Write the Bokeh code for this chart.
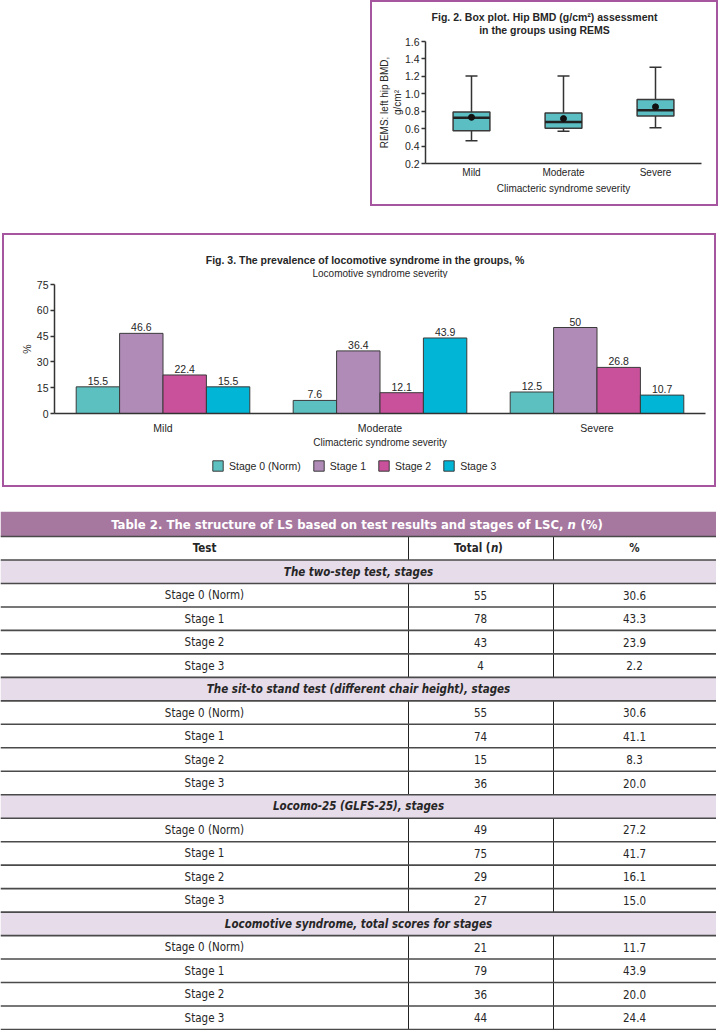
from bokeh.plotting import figure
from bokeh.models import (Range1d, FactorRange, Label, Legend, LegendItem, Whisker,
                          TeeHead, ColumnDataSource, Spacer, NumeralTickFormatter)
from bokeh.layouts import column, row
from bokeh.transform import dodge
from bokeh.core.properties import value
from bokeh.embed import file_html
from bokeh.resources import INLINE

# ---------------- Fig. 2 data (box plot) ----------------
box_groups = ["Mild", "Moderate", "Severe"]
box_low = [0.46, 0.57, 0.61]
box_q1 = [0.575, 0.605, 0.745]
box_median = [0.725, 0.675, 0.81]
box_q3 = [0.79, 0.78, 0.935]
box_high = [1.205, 1.205, 1.305]
box_mean = [0.73, 0.715, 0.85]
box_yticks = [0.2, 0.4, 0.6, 0.8, 1.0, 1.2, 1.4, 1.6]

# ---------------- Fig. 3 data (grouped bars) ----------------
bar_groups = ["Mild", "Moderate", "Severe"]
stage_names = ["Stage 0 (Norm)", "Stage 1", "Stage 2", "Stage 3"]
stage0 = [15.5, 7.6, 12.5]
stage1 = [46.6, 36.4, 50.0]
stage2 = [22.4, 12.1, 26.8]
stage3 = [15.5, 43.9, 10.7]
bar_yticks = [0, 15, 30, 45, 60, 75]

# ---------------- Table 2 data ----------------
table_sections = ["The two-step test, stages",
                  "The sit-to stand test (different chair height), stages",
                  "Locomo-25 (GLFS-25), stages",
                  "Locomotive syndrome, total scores for stages"]
table_stages = ["Stage 0 (Norm)", "Stage 1", "Stage 2", "Stage 3"]
table_totals = [[55, 78, 43, 4], [55, 74, 15, 36], [49, 75, 29, 27], [21, 79, 36, 44]]
table_pcts = [["30.6", "43.3", "23.9", "2.2"], ["30.6", "41.1", "8.3", "20.0"],
              ["27.2", "41.7", "16.1", "15.0"], ["11.7", "43.9", "20.0", "24.4"]]

FONT = "Liberation Sans"
TFONT = "'DejaVu Sans Condensed', 'Liberation Sans'"
TXT = "#262626"
AX = "#333333"
BORDER = "2px solid #a6559f"
stage_colors = ["#5cc0c1", "#b18bb8", "#c9519b", "#00b5d6"]
COMMON = dict(output_backend="svg", toolbar_location=None)


def clean(p):
    p.xgrid.visible = False
    p.ygrid.visible = False
    p.outline_line_color = None


def blank_fig(w, h, xr, yr):
    p = figure(width=w, height=h, x_range=xr, y_range=yr, min_border=0,
               x_axis_location=None, y_axis_location=None, **COMMON)
    p.grid.visible = False
    p.outline_line_color = None
    return p


def style_axes(p, tick_size):
    for ax in (p.xaxis[0], p.yaxis[0]):
        ax.axis_line_color = AX
        ax.axis_line_width = 1.5
        ax.major_tick_line_color = AX
        ax.major_tick_line_width = 1.5
        ax.minor_tick_line_color = None
        ax.major_label_text_font = FONT
        ax.major_label_text_font_size = tick_size
        ax.major_label_text_color = TXT
        ax.axis_label_text_font = FONT
        ax.axis_label_text_font_style = "normal"
        ax.axis_label_text_color = TXT
    clean(p)


def title_label(x, y, txt, bold=True, size="10.5px"):
    return Label(x=x, y=y, text=txt, text_align="center", text_baseline="middle",
                 text_font=FONT, text_font_size=size,
                 text_font_style="bold" if bold else "normal", text_color=TXT)


# ================= Box plot panel =================
# (figures stacked in a column share their frame's left/right edges, so the
#  title strip's x range is expressed in the panel's pixel positions of that frame)
BW = 344
BL, BR = 53, 15
BT_H = 35
bt = blank_fig(BW, BT_H, Range1d(BL, BW - BR), Range1d(BT_H, 0))
bt.add_layout(title_label(172, 14, "Fig. 2. Box plot. Hip BMD (g/cm\u00b2) assessment"))
bt.add_layout(title_label(172, 27, "in the groups using REMS"))

bp = figure(width=BW, height=202 - BT_H, x_range=FactorRange(*box_groups), y_range=Range1d(0.2, 1.6),
            min_border_left=BL, min_border_right=BR, min_border_top=39 - BT_H, min_border_bottom=41,
            **COMMON)
style_axes(bp, "10.5px")
bp.yaxis.ticker = box_yticks
bp.yaxis.formatter = NumeralTickFormatter(format="0.0")
bp.yaxis.major_tick_out = 4
bp.yaxis.major_tick_in = 0
bp.yaxis.major_label_standoff = 2
bp.yaxis.axis_label = "REMS: left hip BMD,\ng/cm\u00b2"
bp.yaxis.axis_label_text_font_size = "10px"
bp.yaxis.axis_label_standoff = -1
bp.xaxis.major_tick_out = 0
bp.xaxis.major_tick_in = 0
bp.xaxis.major_label_standoff = 3
bp.xaxis.major_label_text_font_size = "10px"
bp.xaxis.axis_label = "Climacteric syndrome severity"
bp.xaxis.axis_label_text_font_size = "10px"
bp.xaxis.axis_label_standoff = 2

bsrc = ColumnDataSource(dict(g=box_groups, low=box_low, q1=box_q1, med=box_median,
                             q3=box_q3, high=box_high, mean=box_mean))
wh = Whisker(base="g", lower="low", upper="high", source=bsrc, level="underlay",
             line_color=AX, line_width=1.5,
             upper_head=TeeHead(size=12, line_color=AX, line_width=1.5),
             lower_head=TeeHead(size=12, line_color=AX, line_width=1.5))
bp.add_layout(wh)
bp.vbar(x="g", width=0.4, bottom="q1", top="q3", source=bsrc,
        fill_color="#5abec3", line_color="#3a3a3a", line_width=1.5)
bp.segment(x0=dodge("g", -0.2, range=bp.x_range), x1=dodge("g", 0.2, range=bp.x_range),
           y0="med", y1="med", source=bsrc, line_color="#222222", line_width=2.5)
bp.scatter(x="g", y="mean", source=bsrc, size=6, fill_color="#111111", line_color="#111111")

box_panel = column(bt, bp, styles={"border": BORDER})

# ================= Bar chart panel =================
CW = 710
CL, CR = 50, 9
ct = blank_fig(CW, 43, Range1d(CL, CW - CR), Range1d(43, 0))
ct.add_layout(title_label(360.5, 24, "Fig. 3. The prevalence of locomotive syndrome in the groups, %"))
ct.add_layout(title_label(375.5, 38, "Locomotive syndrome severity", bold=False, size="10px"))

cp = figure(width=CW, height=172, x_range=FactorRange(*bar_groups), y_range=Range1d(0, 75),
            min_border_left=CL, min_border_right=CR, min_border_top=6, min_border_bottom=36,
            **COMMON)
style_axes(cp, "10.5px")
cp.yaxis.ticker = bar_yticks
cp.yaxis.major_tick_out = 4
cp.yaxis.major_tick_in = 0
cp.yaxis.major_label_standoff = 2
cp.yaxis.axis_label = "%"
cp.yaxis.axis_label_text_font_size = "10.5px"
cp.yaxis.axis_label_standoff = 1
cp.xaxis.major_tick_out = 0
cp.xaxis.major_tick_in = 0
cp.xaxis.major_label_standoff = 8
cp.xaxis.axis_label = "Climacteric syndrome severity"
cp.xaxis.axis_label_text_font_size = "10px"
cp.xaxis.axis_label_standoff = 0

series = [stage0, stage1, stage2, stage3]
src_data = dict(group=bar_groups)
for k, s in enumerate(series):
    src_data[f"s{k}"] = s
    src_data[f"l{k}"] = [f"{v:g}" for v in s]
csrc = ColumnDataSource(src_data)
offsets = [-0.3, -0.1, 0.1, 0.3]
for k in range(4):
    xd = dodge("group", offsets[k], range=cp.x_range)
    cp.vbar(x=xd, top=f"s{k}", width=0.2, source=csrc,
            fill_color=stage_colors[k], line_color="#3a3a3a", line_width=1)
    cp.text(x=xd, y=f"s{k}", text=f"l{k}", source=csrc, text_align="center",
            text_baseline="bottom", y_offset=-2, text_font=value(FONT),
            text_font_size="10.5px", text_color=TXT)

# legend strip: key renderers share the bar styles; their marks lie far below the strip's range
cl = blank_fig(CW, 30, Range1d(0, 1), Range1d(0, 1))
keys = [cl.vbar(x=[0.5], bottom=[-6], top=[-5], width=0.1, fill_color=c,
                line_color="#3a3a3a", line_width=1)
        for c in stage_colors]
legend = Legend(items=[LegendItem(label=n, renderers=[r]) for n, r in zip(stage_names, keys)],
                orientation="horizontal", location=(207 - CL, 8),
                glyph_width=13, glyph_height=13, label_text_font=FONT,
                label_text_font_size="10.5px", label_text_color=TXT,
                padding=2, margin=0, spacing=11, label_standoff=5,
                border_line_color=None, background_fill_alpha=0)
cl.add_layout(legend)

bar_panel = column(ct, cp, cl, Spacer(width=CW, height=5), styles={"border": BORDER})

# ================= Table =================
TW = 716
TITLE_H = 25
N_ROWS = 1 + len(table_sections) * (1 + len(table_stages))
TOTAL_H = 518
ROW_H = (TOTAL_H - TITLE_H) / N_ROWS
C1, C2 = 408, 553
XC = [204, 480, 634]

tp = blank_fig(TW, TOTAL_H + 1, Range1d(0, TW), Range1d(TOTAL_H + 1, 0))

kinds, col_a, col_b, col_c = ["header"], ["Test"], [""], ["%"]
for si, sec in enumerate(table_sections):
    kinds.append("section"); col_a.append(sec); col_b.append(""); col_c.append("")
    for k, st in enumerate(table_stages):
        kinds.append("data"); col_a.append(st)
        col_b.append(str(table_totals[si][k])); col_c.append(table_pcts[si][k])

row_top = [TITLE_H + i * ROW_H for i in range(N_ROWS)]
row_mid = [t + ROW_H / 2 for t in row_top]

tp.quad(left=[0], right=[TW], top=[0], bottom=[TITLE_H], fill_color="#a6779f", line_color=None)
sec_idx = [i for i, k in enumerate(kinds) if k == "section"]
tp.quad(left=[0] * len(sec_idx), right=[TW] * len(sec_idx),
        top=[row_top[i] for i in sec_idx], bottom=[row_top[i] + ROW_H for i in sec_idx],
        fill_color="#e6dcea", line_color=None)

grid_idx = [i for i, k in enumerate(kinds) if k != "section"]
for cx in (C1, C2):
    tp.segment(x0=[cx] * len(grid_idx), x1=[cx] * len(grid_idx),
               y0=[row_top[i] for i in grid_idx], y1=[row_top[i] + ROW_H for i in grid_idx],
               line_color="#222222", line_width=1)
hl = [TITLE_H + i * ROW_H for i in range(N_ROWS + 1)]
tp.segment(x0=[0] * len(hl), x1=[TW] * len(hl), y0=hl, y1=hl, line_color="#4a4a4a", line_width=1.6)

tkw = dict(text_baseline="middle", text_font=value(TFONT), text_color=TXT)
tmid = TITLE_H / 2
wkw = dict(text_baseline="middle", text_font=value(TFONT), text_color="white", text_font_size="13px")
tp.text(x=[563], y=[tmid], text=["Table 2. The structure of LS based on test results and stages of LSC,"],
        text_align="right", text_font_style="bold", **wkw)
tp.text(x=[567], y=[tmid], text=["n"], text_align="left", text_font_style="bold italic", **wkw)
tp.text(x=[580], y=[tmid], text=["(%)"], text_align="left", text_font_style="bold", **wkw)

hy = row_mid[0]
tp.text(x=[XC[0]], y=[hy], text=[col_a[0]], text_align="center", text_font_size="11.5px",
        text_font_style="bold", **tkw)
tp.text(x=[490], y=[hy], text=["Total ("], text_align="right", text_font_size="11.5px",
        text_font_style="bold", **tkw)
tp.text(x=[490.5], y=[hy], text=["n"], text_align="left", text_font_size="11.5px",
        text_font_style="bold italic", **tkw)
tp.text(x=[497.5], y=[hy], text=[")"], text_align="left", text_font_size="11.5px",
        text_font_style="bold", **tkw)
tp.text(x=[XC[2]], y=[hy], text=[col_c[0]], text_align="center", text_font_size="11.5px",
        text_font_style="bold", **tkw)

tp.text(x=[TW / 2] * len(sec_idx), y=[row_mid[i] for i in sec_idx], text=[col_a[i] for i in sec_idx],
        text_align="center", text_font_size="11.5px", text_font_style="bold italic", **tkw)

d_idx = [i for i, k in enumerate(kinds) if k == "data"]
for xc, colv in zip(XC, (col_a, col_b, col_c)):
    tp.text(x=[xc] * len(d_idx), y=[row_mid[i] for i in d_idx], text=[colv[i] for i in d_idx],
            text_align="center", text_font_size="11.5px", **tkw)

layout = column(
    row(Spacer(width=370, height=206), box_panel),
    Spacer(width=716, height=27),
    row(Spacer(width=2, height=254), bar_panel),
    Spacer(width=716, height=24),
    tp,
)

open("out.html", "w").write(file_html(layout, INLINE))
